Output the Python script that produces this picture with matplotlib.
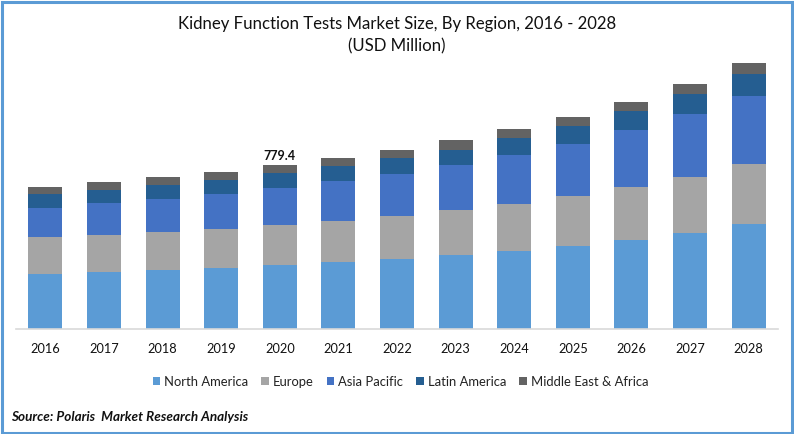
import matplotlib
matplotlib.use("Agg")
import numpy as np
import matplotlib.pyplot as plt
from matplotlib.patches import Rectangle

plt.rcParams['font.family'] = ['Lato', 'DejaVu Sans']

years = [2016, 2017, 2018, 2019, 2020, 2021, 2022, 2023, 2024, 2025, 2026, 2027, 2028]
north_america = [261, 271, 280, 290, 304, 318, 333, 352, 371, 394, 423, 456, 499]
europe = [176, 176, 181, 185, 190, 195, 204, 214, 223, 238, 252, 266, 285]
asia_pacific = [138, 152, 157, 166, 176, 190, 200, 214, 233, 247, 271, 299, 323]
latin_america = [67, 62, 67, 67, 71, 71, 76, 71, 81, 86, 90, 95, 105]
mea = [33, 38, 38, 38, 38.4, 38, 38, 48, 43, 43, 43, 48, 52]

names = ["North America", "Europe", "Asia Pacific", "Latin America", "Middle East & Africa"]
colors = ["#5B9BD5", "#A5A5A5", "#4472C4", "#255E91", "#636363"]
series = [north_america, europe, asia_pacific, latin_america, mea]

W, H = 794, 434
fig = plt.figure(figsize=(W / 100, H / 100), dpi=100)
fig.patches.append(Rectangle((1.5 / W, 1.5 / H), 1 - 3.5 / W, 1 - 3 / H, transform=fig.transFigure,
                             fill=False, edgecolor="#5B9BD5", linewidth=2.2))

# axes placed in pixels, baseline at y=329
ax = fig.add_axes([16 / W, (H - 329) / H, 762 / W, 279 / H])
x = np.arange(len(years))
bottom = np.zeros(len(years))
for vals, name, c in zip(series, names, colors):
    ax.bar(x, vals, 0.58, bottom=bottom, color=c, label=name)
    bottom += np.array(vals)

ax.set_xlim(-0.5, 12.5)
ax.set_ylim(0, 1326)
ax.set_xticks(x)
ax.set_xticklabels(years, fontsize=9.2, color="#111111")
ax.tick_params(axis="x", length=0, pad=10)
ax.set_yticks([])
for s in ["top", "left", "right"]:
    ax.spines[s].set_visible(False)
ax.spines["bottom"].set_color("#D9D9D9")
ax.spines["bottom"].set_linewidth(1.2)

ax.text(4, bottom[4] + 15, "779.4", ha="center", va="bottom", fontsize=9, fontweight="bold", color="#111111")

fig.text(397 / W, 1 - 35.5 / H, "Kidney Function Tests Market Size, By Region, 2016 - 2028\n(USD Million)",
         ha="center", va="center", fontsize=12.05, color="#111111", linespacing=1.5)

fig.legend(loc="center", bbox_to_anchor=(400.5 / W, 1 - 382 / H), ncol=5, frameon=False, fontsize=9.35,
           handlelength=0.58, handleheight=0.58, handletextpad=0.31, columnspacing=1.0, labelcolor="#222222")

fig.text(11 / W, 1 - 417 / H, "Source: Polaris  Market Research Analysis", ha="left", va="center",
         fontsize=9.75, fontweight="bold", fontstyle="italic", color="#111111")

fig.savefig("out.png", dpi=100)
